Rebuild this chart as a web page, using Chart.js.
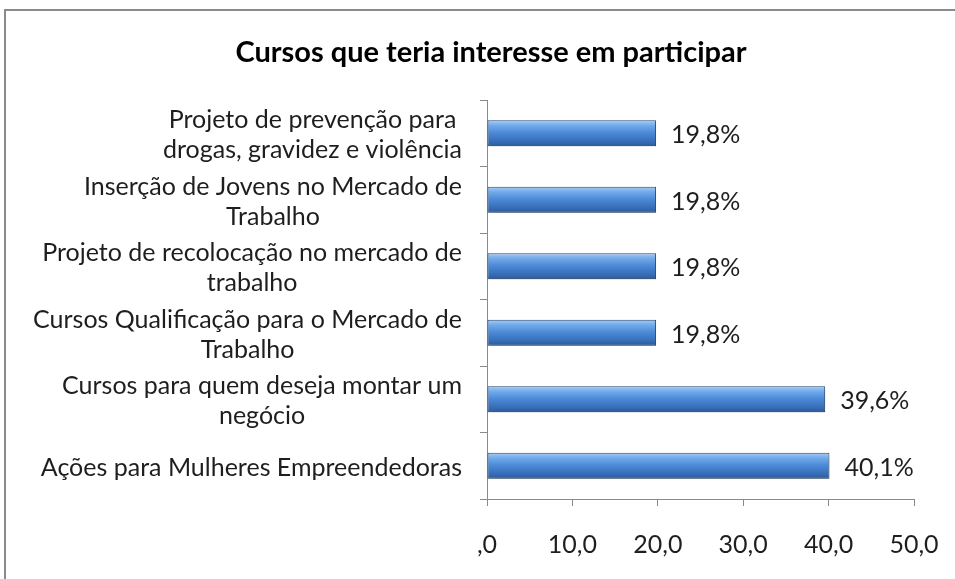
<!DOCTYPE html>
<html>
<head>
<meta charset="utf-8">
<script src="https://cdn.jsdelivr.net/npm/chart.js@4"></script>
<style>
  body { margin: 0; background: #fff; overflow: hidden; }
  #frame { position: absolute; left: 4px; top: 9px; width: 1000px; height: 620px; border: 2px solid #8a8a8a; }
  #wrap { position: absolute; left: 0; top: 0; width: 955px; height: 579px; }
</style>
</head>
<body>
<div id="frame"></div>
<div id="wrap"><canvas id="chart"></canvas></div>
<script>
// Data
const categories = [
    ["Projeto de prevenção para", "drogas, gravidez e violência"],
    ["Inserção de Jovens no Mercado de", "Trabalho"],
    ["Projeto de recolocação no mercado de", "trabalho"],
    ["Cursos Qualificação para o Mercado de", "Trabalho"],
    ["Cursos para quem deseja montar um", "negócio"],
    ["Ações para Mulheres Empreendedoras"]
];
const percentValues = [19.8, 19.8, 19.8, 19.8, 39.6, 40.1];
const xTicks = [0, 10, 20, 30, 40, 50];
const chartTitle = "Cursos que teria interesse em participar";

const FONT = "Lato, 'Open Sans', sans-serif";
const fmt = v => v === 0 ? ",0" : v.toFixed(1).replace('.', ',');

// Blue cylinder-ish gradient, one per bar
function barGradient(context) {
    const chart = context.chart;
    const y = chart.scales.y;
    if (!chart.chartArea || !y) return '#4a88d6';
    const yc = y.getPixelForValue(context.dataIndex);
    const half = 13;
    const g = chart.ctx.createLinearGradient(0, yc - half, 0, yc + half);
    g.addColorStop(0, '#a6cdf6');
    g.addColorStop(0.2, '#72aaea');
    g.addColorStop(0.5, '#4a88d6');
    g.addColorStop(0.85, '#356aB2');
    g.addColorStop(1, '#2a5894');
    return g;
}

// Title drawn centred over the whole frame
const titleText = {
    id: 'titleText',
    afterDraw(chart) {
        const ctx = chart.ctx;
        ctx.save();
        ctx.font = "bold 29px " + FONT;
        ctx.fillStyle = '#000';
        ctx.textAlign = 'center';
        ctx.textBaseline = 'middle';
        ctx.fillText(chartTitle, 491, 53);
        ctx.restore();
    }
};

// Category labels: block right-aligned, lines centered within block
const categoryLabels = {
    id: 'categoryLabels',
    afterDraw(chart) {
        const ctx = chart.ctx;
        const y = chart.scales.y;
        ctx.save();
        ctx.font = "25px " + FONT;
        ctx.fillStyle = '#1e1e1e';
        ctx.textBaseline = 'middle';
        ctx.textAlign = 'center';
        const lh = 30;
        const right = y.right - 25;
        categories.forEach((lines, i) => {
            const w = Math.max(...lines.map(l => ctx.measureText(l).width));
            const cx = right - w / 2;
            const yc = y.getPixelForValue(i) + 2;
            const top = yc - (lines.length - 1) * lh / 2;
            lines.forEach((l, k) => ctx.fillText(l, cx, top + k * lh));
        });
        ctx.restore();
    }
};

// Value labels at the end of each bar
const valueLabels = {
    id: 'valueLabels',
    afterDatasetsDraw(chart) {
        const ctx = chart.ctx;
        const meta = chart.getDatasetMeta(0);
        ctx.save();
        ctx.font = "25px " + FONT;
        ctx.fillStyle = '#1e1e1e';
        ctx.textBaseline = 'middle';
        ctx.textAlign = 'left';
        meta.data.forEach((bar, i) => {
            ctx.fillText(fmt(percentValues[i]) + '%', bar.x + 15, bar.y + 2);
        });
        ctx.restore();
    }
};

// soft shadow under bars
const barShadow = {
    id: 'barShadow',
    beforeDatasetsDraw(chart) {
        const ctx = chart.ctx;
        ctx.save();
        ctx.shadowColor = 'rgba(0,0,0,0.25)';
        ctx.shadowBlur = 4;
        ctx.shadowOffsetY = 3;
        ctx.shadowOffsetX = 1;
    },
    afterDatasetsDraw(chart) {
        chart.ctx.restore();
    }
};

new Chart(document.getElementById('chart'), {
    type: 'bar',
    data: {
        labels: categories,
        datasets: [{
            data: percentValues,
            backgroundColor: barGradient,
            borderColor: '#25497a',
            borderWidth: 1,
            borderSkipped: false,
            categoryPercentage: 1,
            barPercentage: 0.39
        }]
    },
    options: {
        indexAxis: 'y',
        responsive: true,
        maintainAspectRatio: false,
        animation: false,
        layout: { padding: { left: 0, right: 41, top: 100, bottom: 0 } },
        plugins: {
            legend: { display: false },
            tooltip: { enabled: false },
            title: { display: false }
        },
        scales: {
            x: {
                min: 0,
                max: 50,
                afterBuildTicks: axis => { axis.ticks = xTicks.map(v => ({ value: v })); },
                afterFit: axis => { axis.height = 80; axis.paddingLeft = 0; axis.paddingRight = 0; },
                grid: { drawOnChartArea: false, drawTicks: true, tickLength: 7, color: '#8a8a8a' },
                border: { color: '#8a8a8a', width: 1 },
                ticks: {
                    callback: v => fmt(v),
                    color: '#1e1e1e',
                    padding: 24,
                    maxRotation: 0,
                    font: { family: FONT, size: 25 }
                }
            },
            y: {
                afterFit: axis => { axis.width = 487; axis.paddingTop = 0; axis.paddingBottom = 0; },
                grid: { drawOnChartArea: false, drawTicks: true, tickLength: 7, color: '#8a8a8a', offset: true },
                border: { color: '#8a8a8a', width: 1 },
                ticks: { display: false }
            }
        }
    },
    plugins: [barShadow, valueLabels, categoryLabels, titleText]
});
</script>
</body>
</html>
